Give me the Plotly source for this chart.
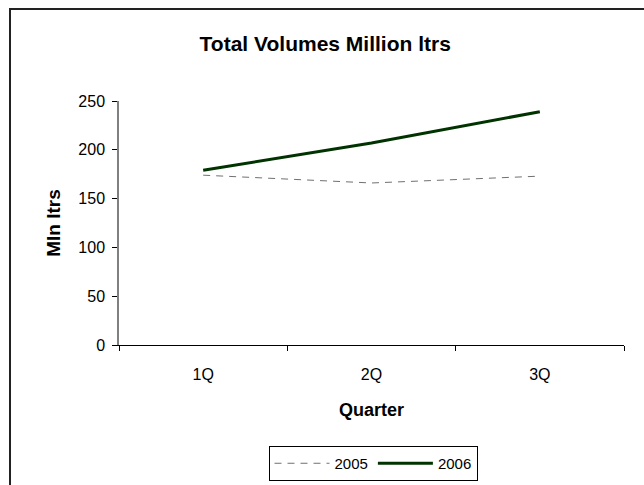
import plotly.graph_objects as go

quarters = ["1Q", "2Q", "3Q"]
vol_2005 = [174, 166, 173]
vol_2006 = [179, 207, 239]
y_ticks = [0, 50, 100, 150, 200, 250]

FONT = "Arial, 'Liberation Sans', sans-serif"

fig = go.Figure()
fig.add_trace(go.Scatter(
    x=quarters, y=vol_2005, name="2005", mode="lines",
    line=dict(color="#707070", width=1, dash="7px,6px"),
))
fig.add_trace(go.Scatter(
    x=quarters, y=vol_2006, name="2006", mode="lines",
    line=dict(color="#003300", width=3),
))

fig.update_layout(
    width=644, height=485,
    margin=dict(l=119, r=20, t=101, b=140, autoexpand=False),
    paper_bgcolor="white", plot_bgcolor="white",
    font=dict(family=FONT, size=16, color="black"),
    title=dict(text="<b>Total Volumes Million ltrs</b>", x=0.505, xanchor="center",
               y=1 - 44 / 485, yanchor="middle", yref="container",
               font=dict(size=21, family=FONT, color="black")),
    showlegend=True,
    legend=dict(orientation="h", x=0.503, xanchor="center",
                yref="container", y=1 - 446 / 485, yanchor="top",
                bordercolor="black", borderwidth=1, bgcolor="white",
                font=dict(size=15, family=FONT), itemwidth=55,
                tracegroupgap=0),
    xaxis=dict(
        type="category", range=[-0.5, 2.5], tickson="boundaries",
        ticks="outside", ticklen=5, tickcolor="black", tickwidth=1,
        showline=True, linecolor="black", linewidth=1, showgrid=False,
        zeroline=False, ticklabelstandoff=15, automargin=False,
        title=dict(text="<b>Quarter</b>", standoff=21, font=dict(size=18)),
    ),
    yaxis=dict(
        range=[0, 250], tickvals=y_ticks, ticks="outside", ticklen=5,
        tickcolor="black", tickwidth=1, showline=True, linecolor="#808080",
        linewidth=1.5, showgrid=False, zeroline=False, ticklabelstandoff=4,
        automargin=False,
        title=dict(text="<b>Mln ltrs</b>", standoff=13, font=dict(size=19)),
    ),
    shapes=[dict(type="rect", xref="paper", yref="paper",
                 x0=(10 - 119) / 505, x1=(648 - 119) / 505,
                 y0=(345 - 495) / 244, y1=(345 - 9) / 244,
                 line=dict(color="#222222", width=2), fillcolor="rgba(0,0,0,0)",
                 layer="below")],
)

fig.write_html("out.html", config={"displayModeBar": False},
               post_script="document.body.style.margin='0px';")
